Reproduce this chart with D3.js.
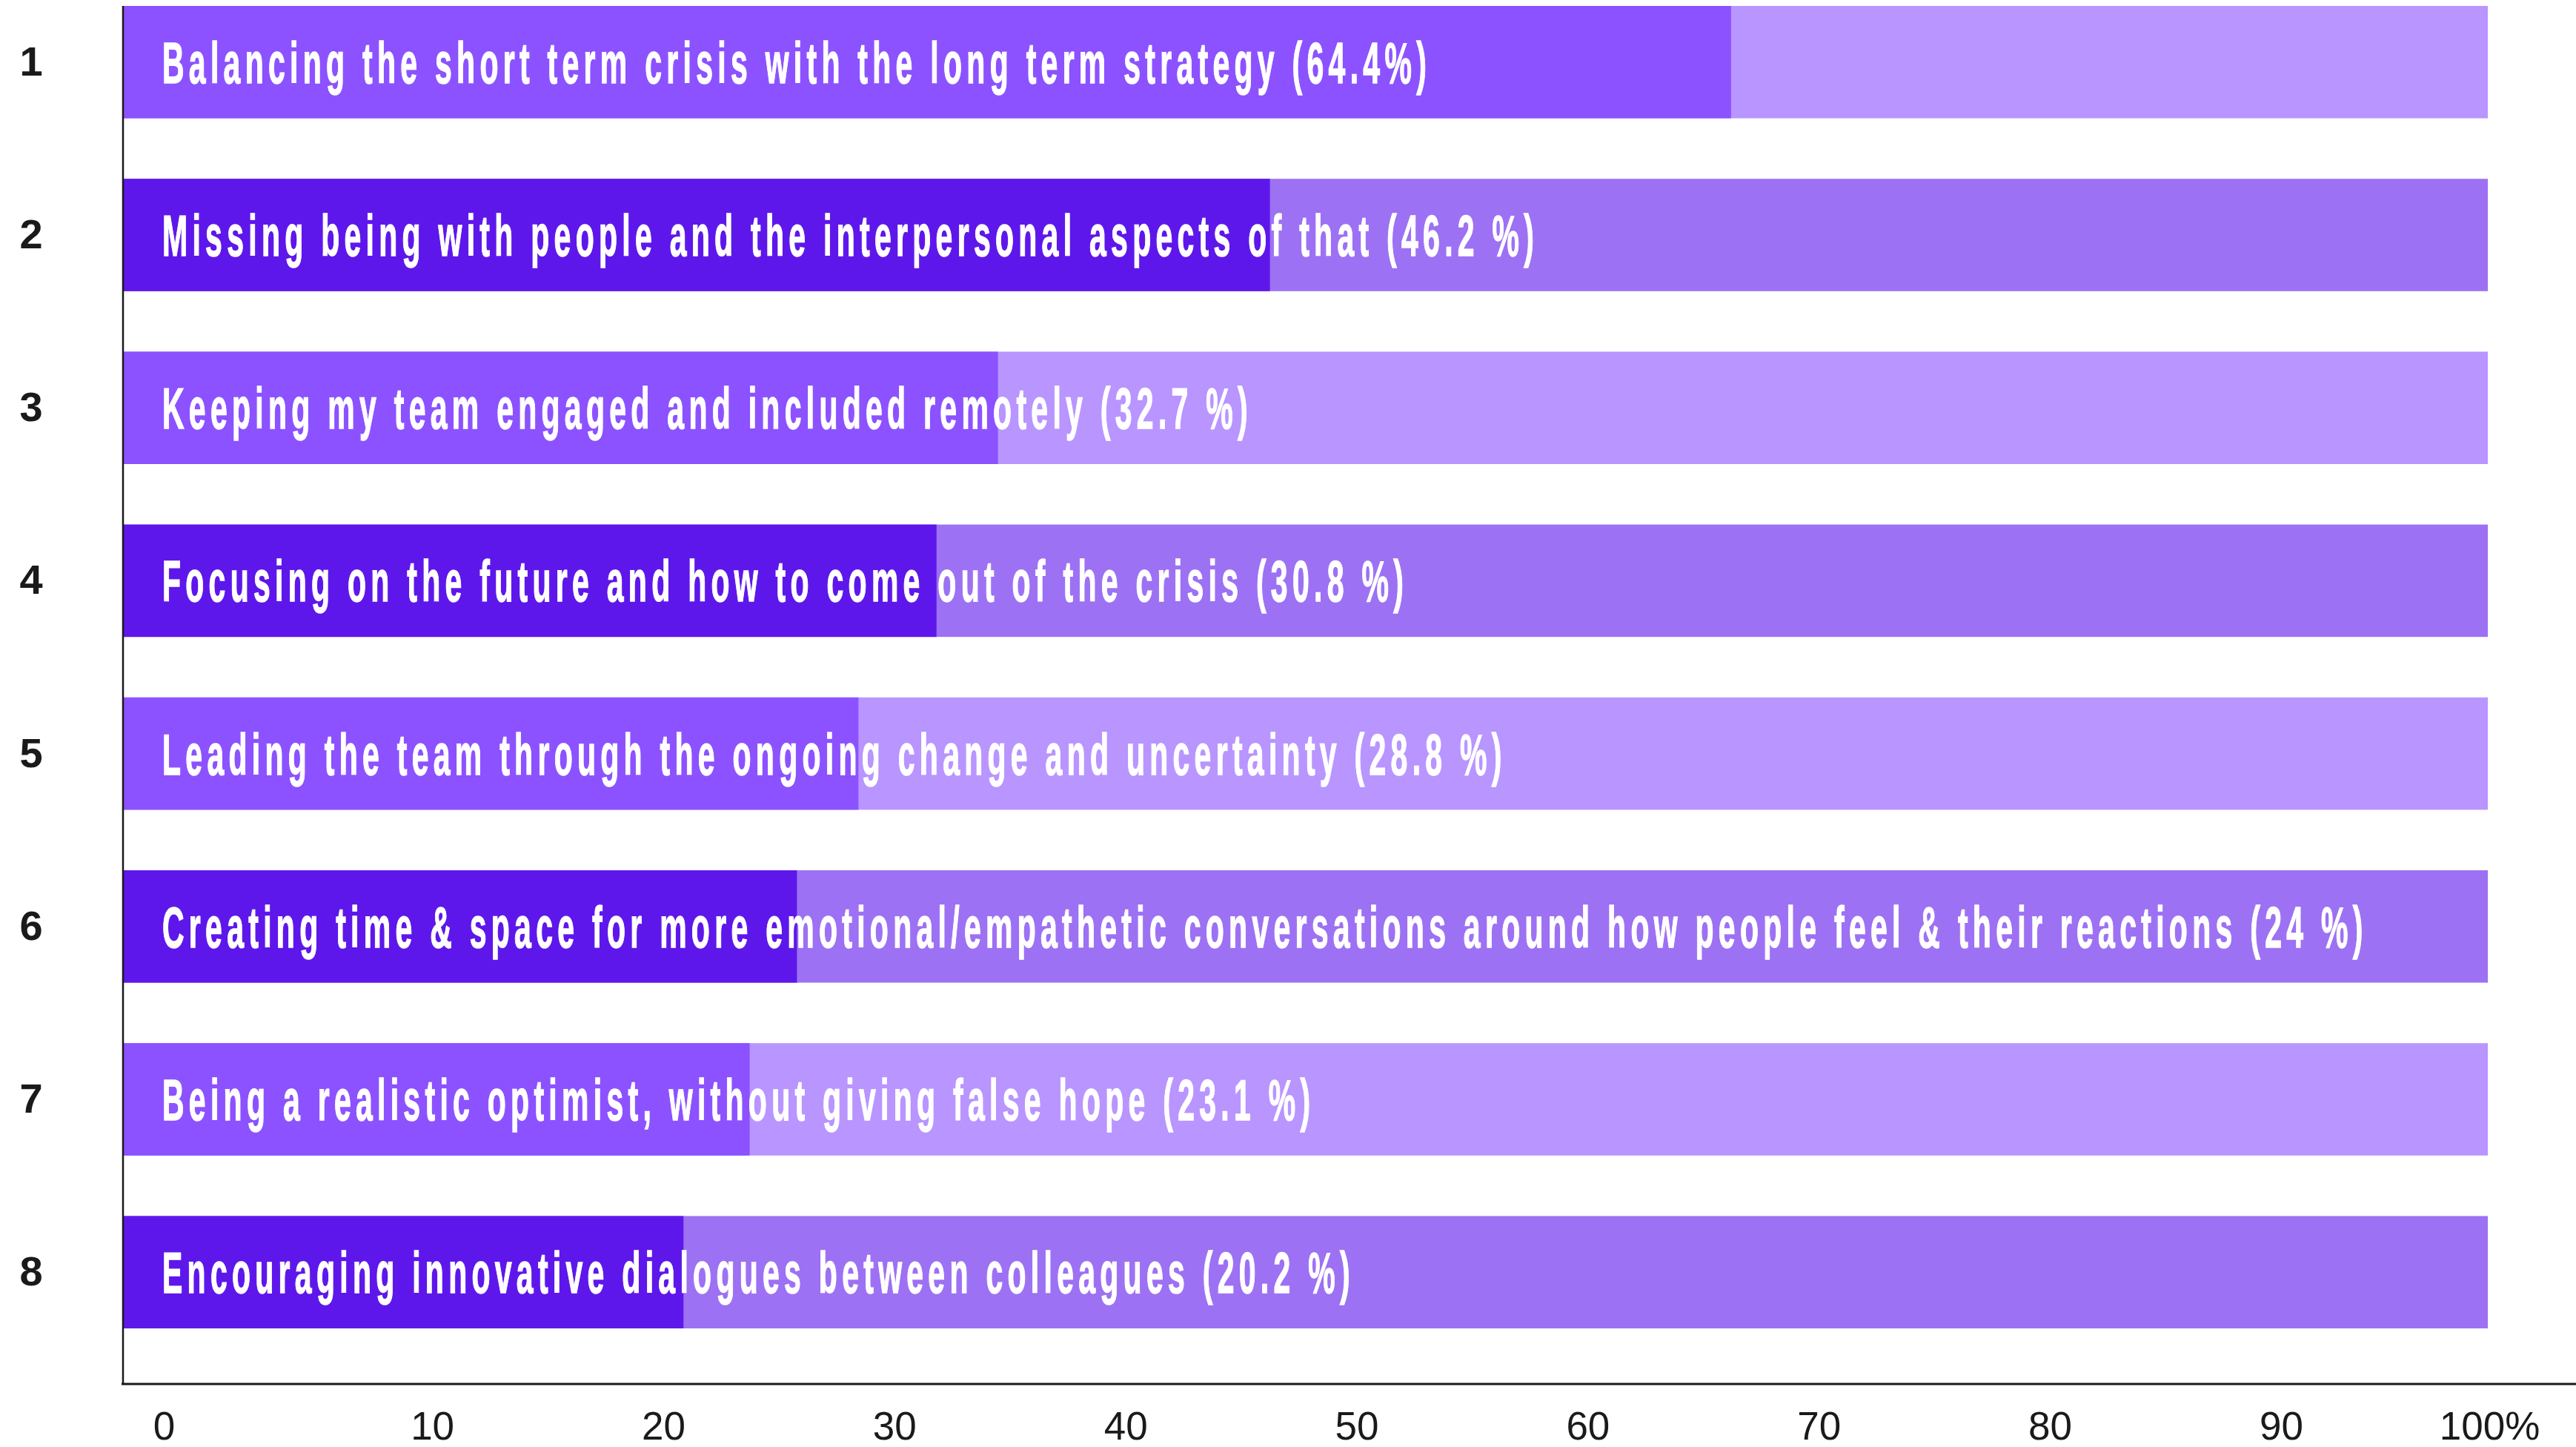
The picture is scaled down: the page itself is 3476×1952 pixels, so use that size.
<!DOCTYPE html>
<html>
<head>
<meta charset="utf-8">
<script src="https://cdnjs.cloudflare.com/ajax/libs/d3/7.8.5/d3.min.js"></script>
<style>
  html, body { margin: 0; padding: 0; background: #fff; }
  svg { display: block; }
</style>
</head>
<body>
<svg></svg>
<script>
// ranked challenges, bar length, label text as printed
var ranks = ['1', '2', '3', '4', '5', '6', '7', '8'];
var labels = [
    'Balancing the short term crisis with the long term strategy (64.4%)',
    'Missing being with people and the interpersonal aspects of that (46.2 %)',
    'Keeping my team engaged and included remotely (32.7 %)',
    'Focusing on the future and how to come out of the crisis (30.8 %)',
    'Leading the team through the ongoing change and uncertainty (28.8 %)',
    'Creating time & space for more emotional/empathetic conversations around how people feel & their reactions (24 %)',
    'Being a realistic optimist, without giving false hope (23.1 %)',
    'Encouraging innovative dialogues between colleagues (20.2 %)'
];
var values = [68.0, 48.5, 37.0, 34.4, 31.1, 28.5, 26.5, 23.7];
var tickValues = [0, 10, 20, 30, 40, 50, 60, 70, 80, 90, 100];

var svgWidth = 3476, svgHeight = 1952;
var colors = ['#8c52ff', '#5e17eb']; // alternating rows
var inkColor = '#1a1a1a';

var svg = d3.select('svg')
    .attr('width', svgWidth)
    .attr('height', svgHeight);

var x = d3.scaleLinear()
    .domain([0, 100])
    .range([166, 3357]);

var y = d3.scaleBand()
    .domain(ranks)
    .range([8, 1792])
    .paddingInner(0.35)
    .paddingOuter(0);

var rows = d3.range(ranks.length).map(function(i) {
    return {rank: ranks[i], label: labels[i], value: values[i], i: i};
});

var row = svg.selectAll('g.row')
    .data(rows)
    .enter()
    .append('g')
    .attr('class', 'row');

// full track, paler tint of the row colour
row.append('rect')
    .attr('x', x(0))
    .attr('y', function(d) { return y(d.rank); })
    .attr('width', x(100) - x(0))
    .attr('height', y.bandwidth())
    .attr('fill', function(d) { return colors[d.i % 2]; })
    .attr('fill-opacity', 0.61);

row.append('rect')
    .attr('x', x(0))
    .attr('y', function(d) { return y(d.rank); })
    .attr('width', function(d) { return x(d.value) - x(0); })
    .attr('height', y.bandwidth())
    .attr('fill', function(d) { return colors[d.i % 2]; });

// condensed look: squeeze a bold sans horizontally and open the tracking
var labelSize = 78, squeeze = 0.525;
row.append('text')
    .attr('transform', function(d) {
        var ty = y(d.rank) + y.bandwidth() / 2 + labelSize * 0.358;
        return 'translate(' + (x(0) + 53) + ',' + ty + ') scale(' + squeeze + ',1)';
    })
    .attr('fill', '#fff')
    .attr('stroke', '#fff')
    .attr('stroke-width', 1.5)
    .attr('font-family', '"Liberation Sans", Arial, sans-serif')
    .attr('font-weight', 'bold')
    .attr('font-size', labelSize)
    .attr('letter-spacing', 12)
    .text(function(d) { return d.label; });

// rank numbers on the left
var yAxis = svg.append('g')
    .attr('transform', 'translate(' + x(0) + ',0)')
    .call(d3.axisLeft(y).tickSize(0).tickPadding(0));
yAxis.select('.domain').remove();
yAxis.selectAll('text')
    .attr('x', -124)
    .attr('text-anchor', 'middle')
    .attr('fill', inkColor)
    .attr('font-family', '"Liberation Sans", Arial, sans-serif')
    .attr('font-weight', 'bold')
    .attr('font-size', 56);

// percentage labels are set a little off the bar scale in the original
var xTick = d3.scaleLinear()
    .domain([0, 10, 90, 100])
    .range([x(0) + 55, x(10) + 98, x(90) + 40, x(100) + 2]);
var xAxis = svg.append('g')
    .attr('transform', 'translate(0,1867)')
    .call(d3.axisBottom(xTick)
        .tickValues(tickValues)
        .tickSize(0)
        .tickPadding(37)
        .tickFormat(function(d) { return d === 100 ? '100%' : d; }));
xAxis.select('.domain').remove();
xAxis.selectAll('text')
    .attr('fill', inkColor)
    .attr('font-family', '"Liberation Sans", Arial, sans-serif')
    .attr('font-size', 53);

// axis lines
svg.append('line')
    .attr('x1', x(0)).attr('x2', x(0))
    .attr('y1', y(ranks[0])).attr('y2', 1867)
    .attr('stroke', inkColor)
    .attr('stroke-width', 2.5);
svg.append('line')
    .attr('x1', x(0) - 2).attr('x2', svgWidth)
    .attr('y1', 1867).attr('y2', 1867)
    .attr('stroke', inkColor)
    .attr('stroke-width', 3);
</script>
</body>
</html>
